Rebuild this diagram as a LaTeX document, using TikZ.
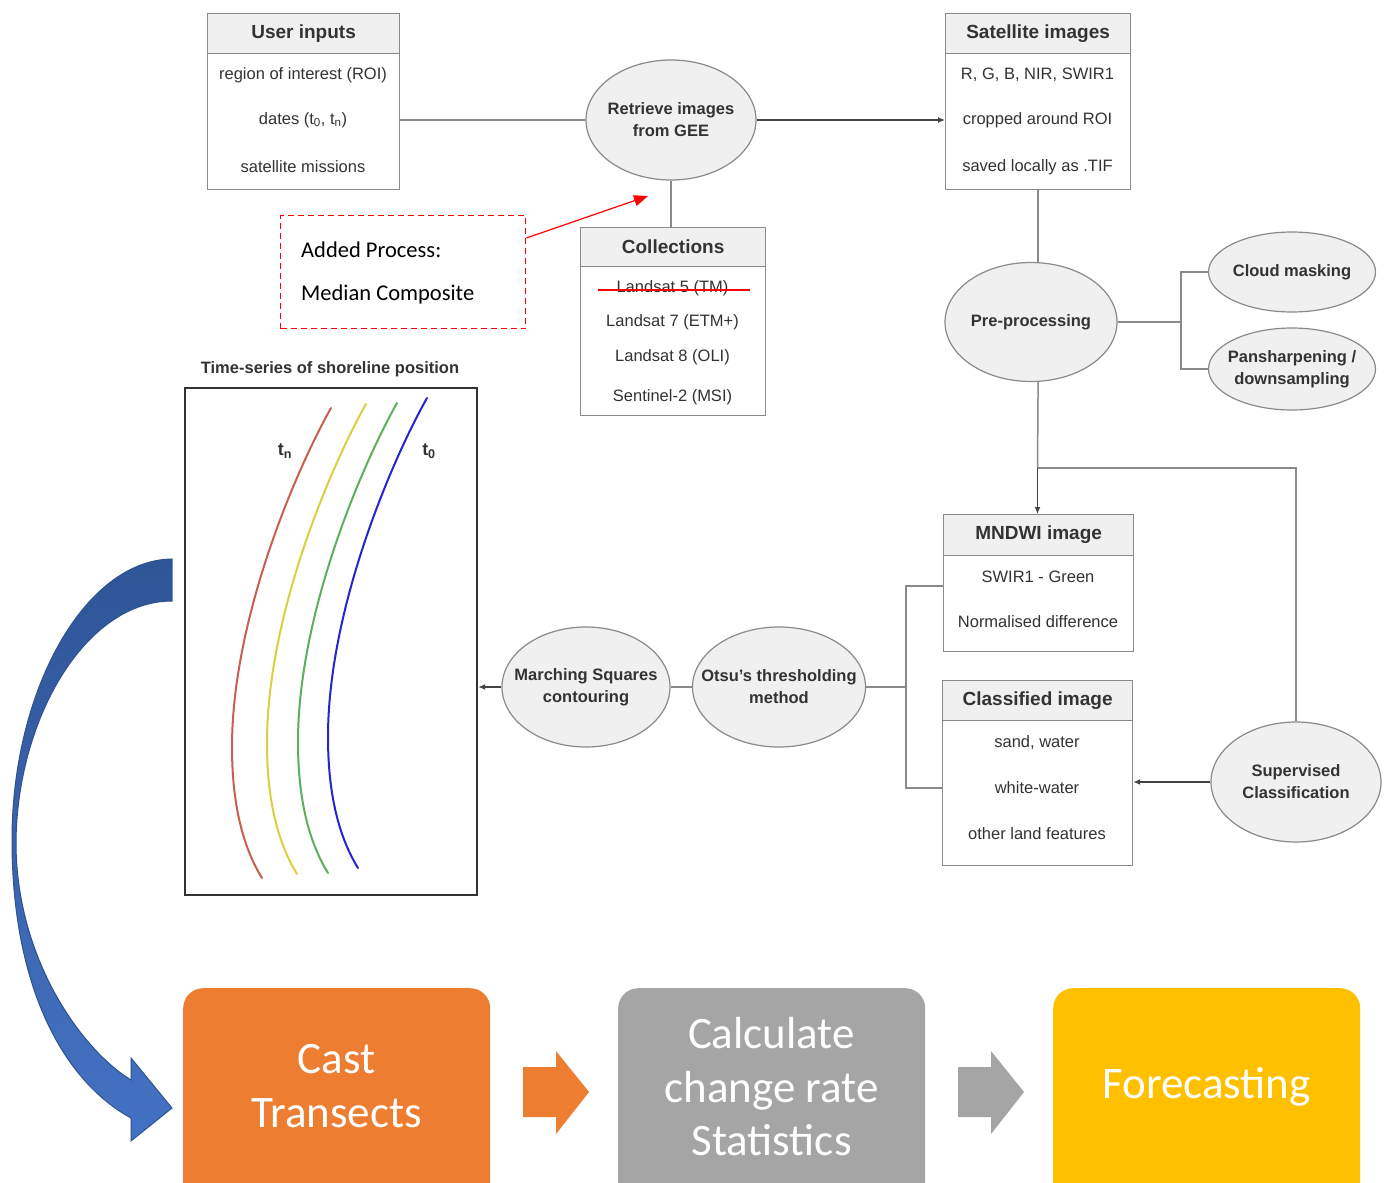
\documentclass[tikz,border=0pt]{standalone}
\usepackage{fontspec}
\setmainfont{Liberation Sans}
\newfontfamily\calibri{Carlito}
\usetikzlibrary{shapes.geometric,arrows.meta}
\definecolor{lg}{HTML}{F0F0F0}
\definecolor{lc}{HTML}{8A8A8A}
\definecolor{tc}{HTML}{333333}
\definecolor{orgC}{HTML}{ED7D31}
\definecolor{gryC}{HTML}{A5A5A5}
\definecolor{gldC}{HTML}{FFC000}
\definecolor{bTop}{HTML}{2F5597}
\definecolor{bBot}{HTML}{4472C4}
\definecolor{bEdge}{HTML}{2F528F}
\definecolor{cRed}{HTML}{C8604E}
\definecolor{cYel}{HTML}{D8D040}
\definecolor{cGrn}{HTML}{5CB05C}
\definecolor{cBlu}{HTML}{2424D0}
\tikzset{
  tbox/.style={draw=lc, line width=1.2pt, fill=white, inner sep=0pt, anchor=north west},
  thead/.style={draw=lc, line width=1.2pt, fill=lg, inner sep=0pt, anchor=north west,
     font=\fontsize{19}{22}\selectfont\bfseries, text=tc},
  rowt/.style={font=\fontsize{16.5}{20}\selectfont, text=tc, inner sep=0pt},
  ell/.style={ellipse, draw=lc, fill=lg, line width=1.2pt, inner sep=-40pt,
     font=\fontsize{16.5}{22}\selectfont\bfseries, text=tc, align=center},
  conn/.style={draw=lc, line width=1.5pt},
  arr/.style={conn, -{Latex[length=7pt,width=6pt]}, draw=tc!80!lc},
  bigtext/.style={text=white, align=center, inner sep=0pt,
     font=\calibri\fontsize{45}{53.5}\selectfont},
  shoreline/.style={line width=2pt, line cap=round},
}
\newcommand\tbl[7]{%
  \node[tbox, minimum width=#4pt, minimum height=#5pt] (#1) at (#2,#3) {};
  \node[thead, minimum width=#4pt, minimum height=#6pt] (#1h) at (#2,#3) {#7};}
\begin{document}
\begin{tikzpicture}[x=1pt,y=-1pt]
\useasboundingbox (0,0) rectangle (1392,1183);
\clip (0,0) rectangle (1392,1183);
\fill[white] (0,0) rectangle (1392,1183);

% ---------- tables ----------
\tbl{ui}{207}{13}{192}{176}{40}{User inputs}
\node[rowt] (ui1) at (303,75) {region of interest (ROI)};
\node[rowt] (ui2) at (303,120) {dates (t\textsubscript{0}, t\textsubscript{n})};
\node[rowt] (ui3) at (303,167) {satellite missions};

\tbl{sat}{945}{13}{185}{176}{40}{Satellite images}
\node[rowt] (sat1) at (1037.5,75) {R, G, B, NIR, SWIR1};
\node[rowt] (sat2) at (1037.5,120) {cropped around ROI};
\node[rowt] (sat3) at (1037.5,167) {saved locally as .TIF};

\tbl{coll}{580}{227}{185}{188}{39}{Collections}
\node[rowt] (coll1) at (672.5,288) {Landsat 5 (TM)};
\node[rowt] (coll2) at (672.5,322) {Landsat 7 (ETM+)};
\node[rowt] (coll3) at (672.5,357) {Landsat 8 (OLI)};
\node[rowt] (coll4) at (672.5,397) {Sentinel-2 (MSI)};
\draw[red, line width=2pt] (598,290) -- (750,290);

\tbl{mnd}{943}{514}{190}{137}{41}{MNDWI image}
\node[rowt] (mnd1) at (1038,577) {SWIR1 - Green};
\node[rowt] (mnd2) at (1038,622) {Normalised difference};

\tbl{cls}{942}{680}{190}{185}{40}{Classified image}
\node[rowt] (cls1) at (1037,743) {sand, water};
\node[rowt] (cls2) at (1037,788) {white-water};
\node[rowt] (cls3) at (1037,834) {other land features};

% ---------- ellipses ----------
\node[ell, minimum width=170pt, minimum height=120pt] (ret) at (671,120) {Retrieve images\\from GEE};
\node[ell, minimum width=172pt, minimum height=119pt] (pre) at (1031,322) {Pre-processing};
\node[ell, minimum width=167pt, minimum height=80pt] (cloud) at (1292,272) {Cloud masking};
\node[ell, minimum width=167pt, minimum height=82pt] (pan) at (1292,369) {Pansharpening /\\downsampling};
\node[ell, minimum width=170pt, minimum height=120pt] (sup) at (1296,782) {Supervised\\Classification};
\node[ell, minimum width=173pt, minimum height=120pt] (otsu) at (779,687) {Otsu's thresholding\\method};
\node[ell, minimum width=168pt, minimum height=120pt] (march) at (586,687) {Marching Squares\\contouring};

% ---------- connectors ----------
\draw[conn] (ui.east |- ret.west) -- (ret.west);
\draw[arr] (ret.east) -- (sat.west |- ret.east);
\draw[conn] (ret.south) -- (ret.south |- coll.north);
\draw[conn] (sat.south) -- (sat.south |- pre.north);
\coordinate (bj) at (1181,322);
\draw[conn] (pre.east) -- (bj) |- (cloud.west);
\draw[conn] (bj) |- (pan.west);
\coordinate (j1) at (1037.5,468);
\draw[conn] (sat.south |- pre.south) -- (j1);
\draw[arr] (j1) -- (j1 |- mnd.north);
\draw[conn] (j1) -| (sup.north);
\draw[arr] (sup.west) -- (cls.east |- sup.west);
\coordinate (k1) at (906,586);
\coordinate (k2) at (906,788);
\draw[conn] (mnd.west |- k1) -- (k1) -- (k2) -- (cls.west |- k2);
\draw[conn] (otsu.east) -- (otsu.east -| k1);
\draw[conn] (march.east) -- (otsu.west);

% ---------- shoreline panel ----------
\node[draw=tc, line width=2.2pt, minimum width=292pt, minimum height=507pt, inner sep=0pt, anchor=north west] (shore) at (184,387) {};
\node[font=\fontsize{16.5}{20}\selectfont\bfseries, text=tc] (stitle) at (330,369) {Time-series of shoreline position};
\draw[arr] (march.west) -- (shore.east |- march.west);
\newcommand\shorecurve{(331,408) .. controls (295,472) and (232,620) .. (232,747) .. controls (232,812) and (246,852) .. (262,878)}
\draw[shoreline, cRed] \shorecurve;
\draw[shoreline, cYel, shift={(35,-4)}] \shorecurve;
\draw[shoreline, cGrn, shift={(66,-5)}] \shorecurve;
\draw[shoreline, cBlu, shift={(96,-10)}] \shorecurve;
\node[font=\fontsize{18}{20}\selectfont\bfseries, text=tc] (tn) at (285,451) {t\textsubscript{n}};
\node[font=\fontsize{18}{20}\selectfont\bfseries, text=tc] (t0) at (429,451) {t\textsubscript{0}};

% ---------- added process note ----------
\node[draw=red, dashed, dash pattern=on 6pt off 4pt, line width=1.4pt, minimum width=245pt, minimum height=113pt, inner sep=0pt, anchor=north west] (note) at (280,215) {};
\node[anchor=west, align=left, inner sep=0pt, font=\calibri\fontsize{22.5}{43}\selectfont] (notet) at (301,273) {Added Process:\\Median Composite};
\coordinate (rtip) at (648,196);
\draw[red, line width=1.2pt, -{Triangle[length=14pt,width=11pt]}] ([yshift=-23pt]note.north east) -- (rtip);

% ---------- curved blue arrow ----------
\shade[top color=bTop, bottom color=bBot, draw=bEdge, line width=1pt]
  (172,559) .. controls (85,560) and (12,690) .. (12,840)
  .. controls (12,985) and (62,1080) .. (131,1118)
  -- (131,1141) -- (172,1108) -- (131,1058) -- (131,1080)
  .. controls (82,1050) and (17,960) .. (16,845)
  .. controls (16,720) and (85,601) .. (172,601) -- cycle;

% ---------- bottom process ----------
\node[fill=orgC, rounded corners=20pt, minimum width=307pt, minimum height=260pt, inner sep=0pt, anchor=north west] (cast) at (183,988) {};
\node[fill=gryC, rounded corners=20pt, minimum width=307pt, minimum height=260pt, inner sep=0pt, anchor=north west] (calc) at (618,988) {};
\node[fill=gldC, rounded corners=20pt, minimum width=307pt, minimum height=260pt, inner sep=0pt, anchor=north west] (fore) at (1053,988) {};
\node[bigtext] (castt) at (336.5,1086) {Cast\\Transects};
\node[bigtext] (calct) at (771.5,1087) {Calculate\\change rate\\Statistics};
\node[bigtext] (foret) at (1206.5,1087) {Forecasting};
\fill[orgC] (523,1067) -- (556,1067) -- (556,1051) -- (589,1092) -- (556,1134) -- (556,1117) -- (523,1117) -- cycle;
\fill[gryC] (958,1067) -- (991,1067) -- (991,1051) -- (1024,1092) -- (991,1134) -- (991,1117) -- (958,1117) -- cycle;
\end{tikzpicture}
\end{document}
